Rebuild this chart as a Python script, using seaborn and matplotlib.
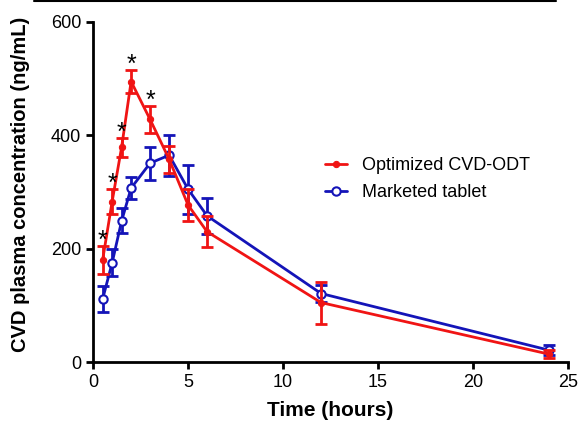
import matplotlib
matplotlib.use("Agg")
import matplotlib.pyplot as plt
import seaborn as sns
import pandas as pd
import numpy as np

time_h = [0.5, 1, 1.5, 2, 3, 4, 5, 6, 12, 24]
odt_mean = [180, 283, 379, 495, 428, 358, 277, 230, 105, 14]
odt_sd = [25, 22, 17, 20, 23, 24, 28, 27, 37, 7]
tab_mean = [111, 175, 249, 307, 351, 365, 305, 258, 121, 21]
tab_sd = [23, 24, 22, 20, 29, 36, 43, 32, 15, 9]
sig_times = [0.5, 1, 1.5, 2, 3]

series_names = ["Optimized CVD-ODT", "Marketed tablet"]
red = "#f01414"
blue = "#1414b8"

sns.set_style("ticks")
plt.rcParams['font.family'] = ['Liberation Sans', 'DejaVu Sans']
plt.rcParams['text.color'] = 'black'
plt.rcParams['axes.labelcolor'] = 'black'
plt.rcParams['xtick.color'] = 'black'
plt.rcParams['ytick.color'] = 'black'

fig = plt.figure(figsize=(5.82, 4.23), dpi=100)
ax = fig.add_axes([0.160, 0.144, 0.816, 0.804])

df = pd.DataFrame({
    "t": time_h * 2,
    "c": odt_mean + tab_mean,
    "s": [series_names[0]] * len(time_h) + [series_names[1]] * len(time_h),
})

# error bars
ax.errorbar(time_h, odt_mean, yerr=odt_sd, fmt='none', ecolor=red, elinewidth=2,
            capsize=4, capthick=2, zorder=3)
ax.errorbar(time_h, tab_mean, yerr=tab_sd, fmt='none', ecolor=blue, elinewidth=2,
            capsize=4, capthick=2, zorder=2)

sns.lineplot(data=df[df.s == series_names[1]], x="t", y="c", ax=ax, color=blue,
             lw=2, marker='o', markersize=6, markerfacecolor='white',
             markeredgecolor=blue, markeredgewidth=1.5, label=series_names[1], zorder=2)
sns.lineplot(data=df[df.s == series_names[0]], x="t", y="c", ax=ax, color=red,
             lw=2, marker='o', markersize=4.5, markerfacecolor=red,
             markeredgecolor=red, label=series_names[0], zorder=3)

# significance asterisks
for t in sig_times:
    i = time_h.index(t)
    ax.text(t, odt_mean[i] + odt_sd[i] + 9, "*", ha='center', va='center',
            fontsize=18, color='black')

ax.set_xlim(0, 25)
ax.set_ylim(0, 600)
ax.set_xticks([0, 5, 10, 15, 20, 25])
ax.set_yticks([0, 200, 400, 600])
ax.set_xlabel("Time (hours)", fontsize=15, fontweight='bold', labelpad=7)
ax.set_ylabel("CVD plasma concentration (ng/mL)", fontsize=14.5, fontweight='bold')
ax.yaxis.set_label_coords(-0.152, 0.524)
ax.yaxis.label.set_va('center')
ax.tick_params(axis='both', labelsize=13, width=2, length=5, color='black', direction='out')
for sp in ['left', 'bottom']:
    ax.spines[sp].set_linewidth(2)
    ax.spines[sp].set_color('black')
sns.despine(ax=ax)

h, l = ax.get_legend_handles_labels()
order = [l.index(series_names[0]), l.index(series_names[1])]
ax.legend([h[i] for i in order], [l[i] for i in order], frameon=False, fontsize=13,
          loc='center left', bbox_to_anchor=(0.488, 0.538), handlelength=1.2,
          handletextpad=0.85, labelspacing=0.55, borderpad=0, borderaxespad=0)

# thin border line at the top of the figure
fig.add_artist(plt.Line2D([0.058, 0.955], [0.997, 0.997], color='black', lw=1.5,
                          transform=fig.transFigure))

fig.savefig("out.png", dpi=100)
